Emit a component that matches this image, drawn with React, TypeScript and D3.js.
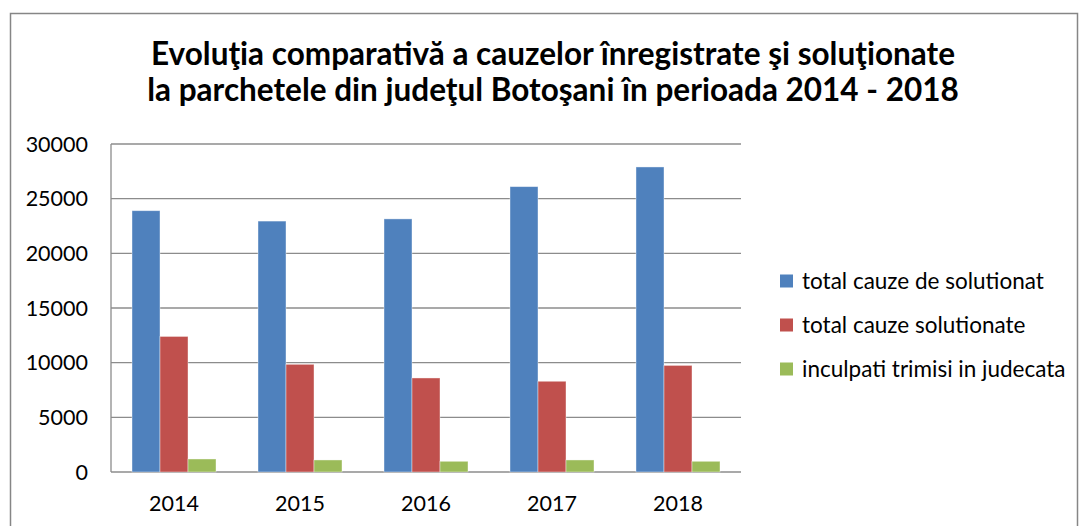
import React from "react";
import * as d3 from "d3";

// Data
const years = ["2014", "2015", "2016", "2017", "2018"];
const totalDeSolutionat = [23900, 22950, 23150, 26100, 27900];
const totalSolutionate = [12400, 9850, 8600, 8300, 9750];
const inculpatiTrimisi = [1190, 1100, 980, 1100, 980];

const seriesNames = [
  "total cauze de solutionat",
  "total cauze solutionate",
  "inculpati trimisi in judecata",
];
const seriesColors = ["#4F81BD", "#C0504D", "#9BBB59"];
const yTicks = [0, 5000, 10000, 15000, 20000, 25000, 30000];

const titleLines = [
  "Evoluţia comparativă a cauzelor înregistrate şi soluţionate",
  "la parchetele din judeţul Botoşani în perioada 2014 - 2018",
];

const W = 1082;
const H = 526;
const FONT = "Lato, 'Open Sans', sans-serif";

export default function App() {
  const series = [totalDeSolutionat, totalSolutionate, inculpatiTrimisi];

  const left = 111;
  const right = 741;
  const top = 144;
  const bottom = 472;

  const x = d3.scaleBand<string>().domain(years).range([left, right]).paddingInner(0.3333).paddingOuter(0.1667);
  const inner = d3
    .scaleBand<number>()
    .domain(d3.range(series.length))
    .range([0, x.bandwidth()]);
  const y = d3.scaleLinear().domain([0, 30000]).range([bottom, top]);

  return (
    <div style={{ position: "fixed", left: 0, top: 0 }}>
      <svg width={W} height={H} style={{ display: "block", background: "#fff" }}>
        {/* chart frame */}
        <rect x={10.5} y={13.5} width={1067} height={530} fill="#fff" stroke="#868686" strokeWidth={1.5} />

        {/* title */}
        {titleLines.map((t, i) => (
          <text
            key={i}
            x={553}
            y={65 + i * 36}
            textAnchor="middle"
            fontFamily={FONT}
            fontWeight={700}
            fontSize={31.5}
            fill="#000"
          >
            {t}
          </text>
        ))}

        {/* gridlines */}
        {yTicks.map((t) => (
          <line key={t} x1={left} x2={right} y1={y(t)} y2={y(t)} stroke="#8c8c8c" strokeWidth={1.3} />
        ))}
        <line x1={left} x2={left} y1={top} y2={bottom} stroke="#8c8c8c" strokeWidth={1.3} />

        {/* y tick labels */}
        {yTicks.map((t) => (
          <text
            key={t}
            x={88}
            y={y(t)}
            dy="0.35em"
            textAnchor="end"
            fontFamily={FONT}
            fontSize={21.5}
            fill="#000"
          >
            {t}
          </text>
        ))}

        {/* bars */}
        {series.map((vals, si) =>
          vals.map((v, i) => (
            <rect
              key={`${si}-${i}`}
              x={(x(years[i]) ?? 0) + (inner(si) ?? 0)}
              y={y(v)}
              width={inner.bandwidth()}
              height={y(0) - y(v)}
              fill={seriesColors[si]}
              stroke="#ffffff"
              strokeOpacity={0.5}
              strokeWidth={0.8}
            />
          ))
        )}

        {/* x labels */}
        {years.map((yr) => (
          <text
            key={yr}
            x={(x(yr) ?? 0) + x.bandwidth() / 2}
            y={511}
            textAnchor="middle"
            fontFamily={FONT}
            fontSize={21.5}
            fill="#000"
          >
            {yr}
          </text>
        ))}

        {/* legend */}
        {seriesNames.map((name, i) => (
          <g key={name} transform={`translate(780, ${281 + i * 44})`}>
            <rect x={0} y={-6.5} width={13} height={13} fill={seriesColors[i]} />
            <text x={22} y={0} dy="0.35em" fontFamily={FONT} fontSize={22.5} fill="#000">
              {name}
            </text>
          </g>
        ))}
      </svg>
    </div>
  );
}
